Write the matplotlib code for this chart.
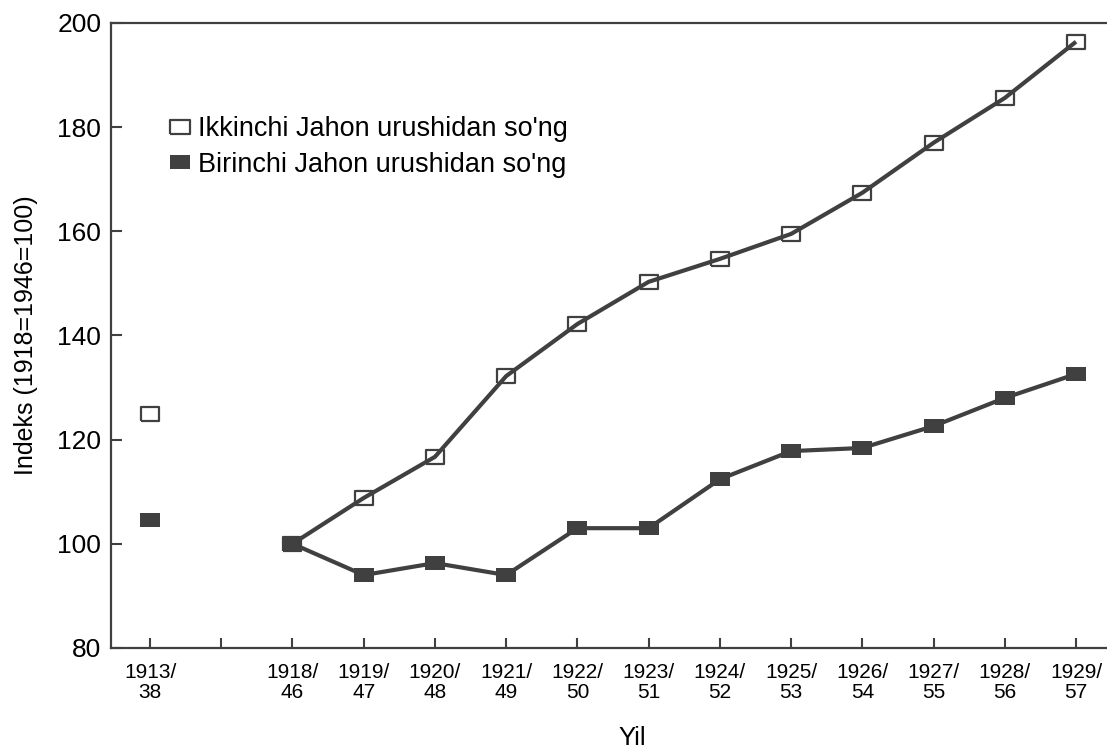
import matplotlib
matplotlib.use("Agg")
import matplotlib.pyplot as plt
from matplotlib.lines import Line2D

# Data
tick_labels = ["1913/\n38", "", "1918/\n46", "1919/\n47", "1920/\n48", "1921/\n49",
               "1922/\n50", "1923/\n51", "1924/\n52", "1925/\n53", "1926/\n54",
               "1927/\n55", "1928/\n56", "1929/\n57"]
x_base = [0]
x_series = [2, 3, 4, 5, 6, 7, 8, 9, 10, 11, 12, 13]
ikkinchi_base = [125.0]
ikkinchi = [100.0, 108.8, 116.7, 132.2, 142.2, 150.3, 154.7, 159.5, 167.4, 177.0, 185.6, 196.4]
birinchi_base = [104.6]
birinchi = [100.0, 94.0, 96.3, 94.0, 103.0, 103.0, 112.4, 117.8, 118.4, 122.6, 128.0, 132.6]
label_ikk = "Ikkinchi Jahon urushidan so'ng"
label_bir = "Birinchi Jahon urushidan so'ng"

plt.rcParams['font.family'] = ['Liberation Sans', 'DejaVu Sans']
dark = "#404040"
rect = [(-1, -0.72), (1, -0.72), (1, 0.72), (-1, 0.72), (-1, -0.72)]

fig = plt.figure(figsize=(11.07, 7.56), dpi=100)
ax = fig.add_axes([0.1003, 0.1429, 0.8997, 0.9696 - 0.1429])

# open series: markers beneath the line
ax.plot(x_base + x_series, ikkinchi_base + ikkinchi, linestyle='none', marker=rect,
        markersize=13.5, markerfacecolor='white', markeredgecolor=dark,
        markeredgewidth=1.6, zorder=2)
ax.plot(x_series, ikkinchi, color=dark, lw=3, zorder=3, solid_capstyle='butt')

ax.plot(x_series, birinchi, color=dark, lw=3, zorder=3)
ax.plot(x_base + x_series, birinchi_base + birinchi, linestyle='none', marker=rect,
        markersize=14.5, markerfacecolor=dark, markeredgecolor=dark,
        markeredgewidth=0, zorder=4)

ax.set_xlim(-0.5475, 13.435)
ax.set_ylim(80, 200)
ax.set_xticks(range(len(tick_labels)))
ax.set_xticklabels(tick_labels, fontsize=15, linespacing=1.05)
ax.set_yticks([80, 100, 120, 140, 160, 180, 200])
ax.tick_params(axis='x', direction='in', length=7.5, width=1.5, color=dark, pad=11)
ax.tick_params(axis='y', direction='in', length=8, width=1.5, color=dark, pad=7, labelsize=19)

for s in ['left', 'top', 'bottom']:
    ax.spines[s].set_color(dark)
    ax.spines[s].set_linewidth(1.6)
ax.spines['right'].set_visible(False)

ax.set_ylabel("Indeks (1918=1946=100)", fontsize=18, labelpad=14)
fig.text(632 / 1107, 1 - 738 / 756, "Yil", fontsize=18.5, ha='center', va='center')

handles = [
    Line2D([], [], linestyle='none', marker=rect, markersize=14, markerfacecolor='white',
           markeredgecolor=dark, markeredgewidth=1.6),
    Line2D([], [], linestyle='none', marker=rect, markersize=15, markerfacecolor=dark,
           markeredgecolor=dark, markeredgewidth=0),
]
ax.legend(handles, [label_ikk, label_bir], frameon=False, fontsize=19.5,
          loc='upper left', bbox_to_anchor=(0.048, 0.868), handlelength=0.75,
          handletextpad=0.3, labelspacing=0.34, borderaxespad=0)

fig.savefig("out.png", dpi=100)
